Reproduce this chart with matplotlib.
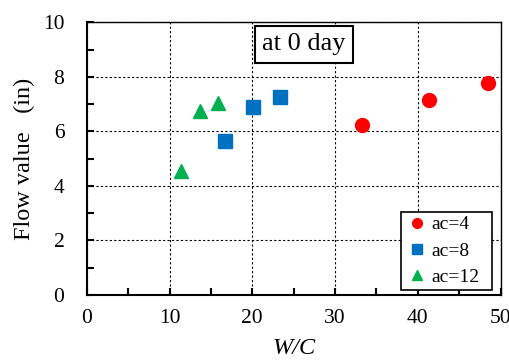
import matplotlib
matplotlib.use("Agg")
import matplotlib.pyplot as plt
from matplotlib.ticker import MultipleLocator

plt.rcParams['font.family'] = ['Liberation Serif', 'DejaVu Serif']

# Data
wc_ac4 = [33.2, 41.3, 48.5]
flow_ac4 = [6.23, 7.15, 7.76]
wc_ac8 = [16.7, 20.1, 23.4]
flow_ac8 = [5.65, 6.90, 7.26]
wc_ac12 = [11.4, 13.7, 15.9]
flow_ac12 = [4.55, 6.75, 7.05]

fig = plt.figure(figsize=(5.1, 3.63), dpi=100)
ax = fig.add_axes([86.7/510, 1 - 295/363, (500.7-86.7)/510, (295-22.3)/363])

ax.plot(wc_ac4, flow_ac4, 'o', color='#FF0000', markersize=10, label='ac=4', zorder=3)
ax.plot(wc_ac8, flow_ac8, 's', color='#0070C0', markersize=10, label='ac=8', zorder=3)
ax.plot(wc_ac12, flow_ac12, '^', color='#00B050', markersize=10, label='ac=12', zorder=3)

ax.set_xlim(0, 50)
ax.set_ylim(0, 10)
ax.xaxis.set_major_locator(MultipleLocator(10))
ax.xaxis.set_minor_locator(MultipleLocator(5))
ax.yaxis.set_major_locator(MultipleLocator(2))
ax.yaxis.set_minor_locator(MultipleLocator(1))
ax.tick_params(axis='both', which='both', direction='in', labelsize=15.5,
               width=1.5, length=5)
ax.tick_params(axis='x', which='both', pad=10)
ax.tick_params(axis='y', which='both', pad=16)
for s in ['top', 'bottom', 'left', 'right']:
    ax.spines[s].set_linewidth(1.5)
ax.spines['top'].set_linewidth(1.0)
ax.spines['right'].set_linewidth(1.0)
ax.grid(True, which='major', color='black', linestyle=(0, (2, 2)), linewidth=0.8)

ax.set_xlabel('W/C', fontsize=17.5, fontstyle='italic', labelpad=7)
ax.set_ylabel('Flow value   (in)', fontsize=17.5, labelpad=6)

ax.text(0.525, 0.919, 'at 0 day', transform=ax.transAxes, fontsize=19,
        ha='center', va='center',
        bbox=dict(boxstyle='square,pad=0.27', facecolor='white', edgecolor='black', linewidth=1.5))

leg = ax.legend(loc='lower left', mode='expand', fontsize=14, markerscale=0.7,
                handlelength=1.3, handletextpad=0.1, borderpad=0.2, labelspacing=0.45,
                fancybox=False, framealpha=1, edgecolor='black',
                bbox_to_anchor=(0.7585, 0.018, 0.2198, 0.2), borderaxespad=0)
leg.get_frame().set_linewidth(1.2)

fig.savefig('out.png', dpi=100)
